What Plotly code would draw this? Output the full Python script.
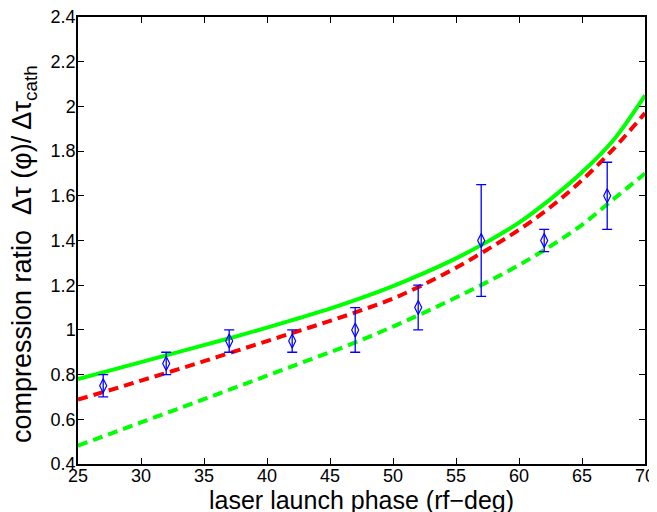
import plotly.graph_objects as go

# Data
meas_x = [27, 32, 37, 42, 47, 52, 57, 62, 67]
meas_y = [0.75, 0.85, 0.95, 0.95, 1.0, 1.1, 1.4, 1.4, 1.6]
meas_err_plus = [0.05, 0.05, 0.05, 0.05, 0.1, 0.1, 0.25, 0.05, 0.15]
meas_err_minus = [0.05, 0.05, 0.05, 0.05, 0.1, 0.1, 0.25, 0.05, 0.15]

curve_x = [25, 27.5, 30, 32.5, 35, 37.5, 40, 42.5, 45, 47.5, 50,
           52.5, 55, 57.5, 60, 62.5, 65, 67.5, 70]
green_solid = [0.78, 0.818, 0.856, 0.894, 0.932, 0.97, 1.01, 1.052, 1.095, 1.143, 1.196,
               1.255, 1.32, 1.395, 1.48, 1.585, 1.705, 1.85, 2.05]
red_dashed = [0.688, 0.73, 0.773, 0.816, 0.86, 0.905, 0.95, 0.995, 1.04, 1.088, 1.14,
              1.205, 1.278, 1.36, 1.448, 1.55, 1.67, 1.81, 1.97]
green_dashed = [0.482, 0.534, 0.586, 0.638, 0.69, 0.743, 0.795, 0.848, 0.90, 0.955, 1.015,
                1.078, 1.145, 1.215, 1.29, 1.375, 1.47, 1.585, 1.70]

x_ticks = [25, 30, 35, 40, 45, 50, 55, 60, 65, 70]
y_ticks = [0.4, 0.6, 0.8, 1.0, 1.2, 1.4, 1.6, 1.8, 2.0, 2.2, 2.4]
y_ticktext = ["0.4", "0.6", "0.8", "1", "1.2", "1.4", "1.6", "1.8", "2", "2.2", "2.4"]

x_title = "laser launch phase (rf\u2212deg)"
y_title = "compression ratio  \u0394\u03c4 (\u03c6)/ \u0394\u03c4<sub>cath</sub>"

fig = go.Figure()
fig.add_trace(go.Scatter(x=curve_x, y=green_dashed, mode="lines", line_shape="spline",
                         line=dict(color="#00FF00", width=4, dash="10px,6px"), showlegend=False))
fig.add_trace(go.Scatter(x=curve_x, y=red_dashed, mode="lines", line_shape="spline",
                         line=dict(color="#FF0000", width=4, dash="10px,6px"), showlegend=False))
fig.add_trace(go.Scatter(x=curve_x, y=green_solid, mode="lines", line_shape="spline",
                         line=dict(color="#00FF00", width=4), showlegend=False))
fig.add_trace(go.Scatter(x=meas_x, y=meas_y, mode="markers",
                         marker=dict(symbol="diamond-tall-open", size=10, color="#0000FF",
                                     line=dict(width=1.2, color="#0000FF")),
                         error_y=dict(type="data", array=meas_err_plus, arrayminus=meas_err_minus,
                                      symmetric=False, color="#0000FF", thickness=1.3, width=5),
                         showlegend=False))

font_family = "Liberation Sans, Arial, sans-serif"
# the page adds an 8px body margin, so the figure is sized to fit the 657x512 window
fig.update_layout(
    width=649, height=504,
    margin=dict(l=70, r=12, t=9, b=48),
    paper_bgcolor="white", plot_bgcolor="white",
    font=dict(family=font_family, color="black", size=18),
    xaxis=dict(range=[25, 70], tickvals=x_ticks, ticks="inside", ticklen=6, tickcolor="black",
               showline=True, linecolor="black", linewidth=1.5, mirror="ticks", showgrid=False,
               zeroline=False, tickfont=dict(size=18), automargin=False,
               ticklabeloverflow="allow", ticklabelstandoff=-5),
    yaxis=dict(range=[0.4, 2.4], tickvals=y_ticks, ticktext=y_ticktext, ticks="inside", ticklen=6,
               tickcolor="black", showline=True, linecolor="black", linewidth=1.5, mirror="ticks",
               showgrid=False, zeroline=False, tickfont=dict(size=18), automargin=False,
               ticklabeloverflow="allow", ticklabelstandoff=-3),
    annotations=[
        dict(text=x_title, xref="paper", yref="paper", x=0.5, y=-0.08, xanchor="center",
             yanchor="middle", showarrow=False, font=dict(size=25)),
        dict(text=y_title, xref="paper", yref="paper", x=-0.095, y=0.47, xanchor="center",
             yanchor="middle", textangle=-90, showarrow=False, font=dict(size=27)),
    ],
)

fig.write_html("out.html")
